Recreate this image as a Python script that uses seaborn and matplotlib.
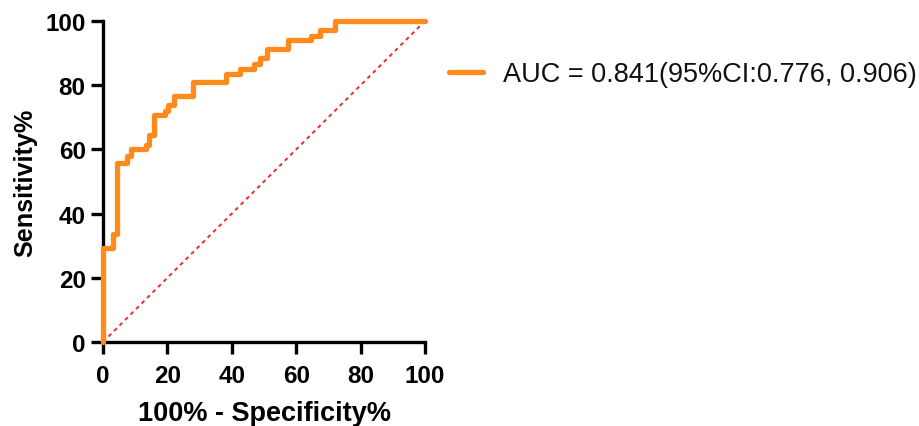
import matplotlib
matplotlib.use("Agg")
import matplotlib.pyplot as plt
import seaborn as sns
import pandas as pd

# ROC curve vertices (100% - specificity %, sensitivity %)
fpr = [0, 0, 3.1, 3.1, 4.3, 4.3, 7.5, 7.5, 8.7, 8.7, 13.2, 13.2, 14.4, 14.4,
       15.7, 15.7, 19.1, 19.1, 20.3, 20.3, 22.0, 22.0, 27.9, 27.9, 38.1, 38.1,
       42.5, 42.5, 46.8, 46.8, 48.8, 48.8, 51.0, 51.0, 57.5, 57.5, 64.7, 64.7,
       67.5, 67.5, 72.0, 72.0, 100]
tpr = [0, 29.4, 29.4, 33.7, 33.7, 55.8, 55.8, 58.0, 58.0, 60.0, 60.0, 61.5, 61.5,
       64.6, 64.6, 70.6, 70.6, 72.0, 72.0, 73.7, 73.7, 76.5, 76.5, 81.0, 81.0,
       83.5, 83.5, 85.0, 85.0, 86.7, 86.7, 88.4, 88.4, 91.3, 91.3, 94.0, 94.0,
       95.3, 95.3, 97.2, 97.2, 100, 100]
ref_x = [0, 100]
ref_y = [0, 100]
ticks = [0, 20, 40, 60, 80, 100]
legend_label = "AUC = 0.841(95%CI:0.776, 0.906)"
x_label = "100% - Specificity%"
y_label = "Sensitivity%"

sns.set_theme(style="ticks")
plt.rcParams['font.family'] = ['Liberation Sans', 'DejaVu Sans']

fig = plt.figure(figsize=(9.19, 4.27), dpi=100)
ax = fig.add_axes([103/919, 1 - 343/427, (425-103)/919, (343-22)/427])

df = pd.DataFrame({"x": fpr, "y": tpr})
sns.lineplot(data=df, x="x", y="y", sort=False, estimator=None, ax=ax,
             color="#ff8a1c", linewidth=3.8, label=legend_label, clip_on=False,
             zorder=3)
ref = pd.DataFrame({"x": ref_x, "y": ref_y})
sns.lineplot(data=ref, x="x", y="y", ax=ax, color="#ee2a2a", linewidth=1.4,
             linestyle=(0, (2, 2)), zorder=2, legend=False)

ax.set_xlim(0, 100)
ax.set_ylim(0, 100)
ax.set_xticks(ticks)
ax.set_yticks(ticks)
ax.set_xlabel(x_label, fontsize=19.5, fontweight="bold", labelpad=10, color="black")
ax.set_ylabel(y_label, fontsize=18.2, fontweight="bold", labelpad=6, color="black")
for lab in ax.get_xticklabels() + ax.get_yticklabels():
    lab.set_fontweight("bold")
ax.tick_params(axis="x", pad=7)
ax.tick_params(axis="y", pad=4)
ax.tick_params(axis="both", labelsize=17.5, length=8.5, width=2.4, color="black",
               labelcolor="black", direction="out")
sns.despine(ax=ax)
for s in ("left", "bottom"):
    ax.spines[s].set_linewidth(2.4)
    ax.spines[s].set_color("black")

h, l = ax.get_legend_handles_labels()
ax.get_legend().remove()
leg = fig.legend(h, l, loc="center left", bbox_to_anchor=(449/919, 1 - 75/427),
                 frameon=False, fontsize=19.5, handlelength=1.25, handletextpad=0.75,
                 borderpad=0, borderaxespad=0)
for t in leg.get_texts():
    t.set_color("#111111")

fig.savefig("out.png", dpi=100)
